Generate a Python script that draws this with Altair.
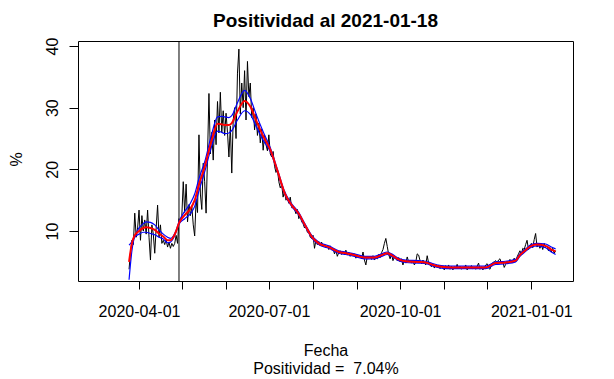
import altair as alt
import pandas as pd

# Daily positivity (%) from 2020-03-25 to 2021-01-18
inicio = "2020-03-25"
positividad = [
    3.8, 6.5, 8.5, 7.8, 12.9, 9.0, 10.5,
    13.4, 8.5, 12.5, 10.0, 11.8, 9.5, 13.4, 9.0, 5.3, 11.0,
    9.5, 6.4, 10.5, 14.2, 9.0, 11.0, 8.0, 8.5, 7.8, 8.6,
    7.4, 8.2, 7.2, 8.0, 7.5, 8.0, 9.3, 8.0, 12.0, 11.5,
    12.5, 18.0, 13.0, 17.6, 11.5, 14.3, 12.5, 14.0, 11.0, 9.2,
    15.0, 13.0, 25.6, 16.0, 13.5, 21.0, 18.0, 12.9, 22.0, 32.3,
    22.5, 26.0, 21.5, 28.0, 24.0, 31.0, 25.9, 32.5, 26.0, 29.5,
    25.5, 29.1, 26.0, 22.0, 27.0, 19.4, 28.0, 30.0, 25.0, 35.6,
    39.5, 29.0, 34.0, 30.0, 36.0, 28.0, 37.5, 31.8, 34.0, 28.4,
    30.0, 26.4, 29.0, 25.5, 27.5, 24.3, 26.5, 23.1, 25.5, 24.0,
    23.0, 25.6, 22.5, 22.0, 22.9, 20.5, 19.5, 20.0, 18.0, 17.0,
    17.5, 15.5, 16.5, 15.0, 15.5, 14.5, 15.5, 13.8, 14.0, 13.5,
    12.8, 13.5, 12.0, 12.5, 11.5, 11.2, 10.5, 10.8, 9.8, 10.0,
    9.0, 8.8, 9.3, 7.2, 8.5, 7.8, 8.3, 7.6, 8.2, 7.5,
    7.9, 7.3, 7.7, 7.0, 7.6, 7.0, 7.2, 6.3, 6.9, 5.9,
    6.5, 6.8, 6.2, 6.6, 6.3, 6.9, 6.1, 6.5, 5.9, 6.4,
    6.0, 6.3, 5.6, 6.1, 5.8, 6.0, 5.5, 6.6, 5.3, 4.5,
    5.9, 5.6, 5.8, 5.4, 6.0, 5.3, 5.7, 5.5, 6.2, 5.7,
    6.5, 7.0, 8.0, 8.8, 7.5, 6.2, 5.5, 6.3, 5.2, 5.8,
    5.6, 5.2, 5.7, 5.0, 5.5, 4.5, 5.3, 4.8, 5.8, 5.0,
    5.3, 4.8, 5.2, 4.5, 5.0, 6.3, 6.1, 5.2, 4.7, 5.3,
    4.9, 4.5, 6.0, 4.8, 4.5, 4.2, 4.6, 4.0, 4.4, 4.1,
    4.5, 3.9, 4.3, 4.0, 3.7, 4.4, 4.0, 4.5, 3.8, 4.3,
    3.7, 4.2, 4.0, 4.6, 3.9, 4.3, 3.8, 4.2, 4.0, 4.5,
    3.7, 4.2, 4.0, 4.4, 3.9, 4.1, 3.8, 4.3, 4.8, 3.8,
    4.2, 3.7, 4.0, 4.5, 4.7, 4.0, 3.8, 4.5, 4.9, 5.0,
    5.2, 4.8, 5.3, 5.5, 4.8, 5.0, 4.1, 4.6, 5.1, 4.8,
    5.4, 4.9, 5.2, 5.6, 5.0, 5.8, 6.3, 6.8, 6.2, 7.2,
    7.0, 7.8, 8.5, 7.0, 7.4, 8.0, 7.3, 8.6, 9.6, 7.4,
    8.0, 7.2, 7.8, 7.0, 8.0, 7.3, 7.6, 6.8, 7.3, 6.6,
    7.2, 6.4, 6.8,
]

# Smoothed curve and band, days counted from 2020-04-01
suav_dias = [-7, -5, -3, 0, 3, 5, 8, 11, 14, 17, 20, 22, 24, 26, 28, 32, 36, 39, 42, 46,
             51, 55, 58, 60, 63, 65, 69, 74, 78, 82, 87, 92, 97, 102, 107, 112, 116, 121,
             126, 133, 140, 145, 151, 158, 165, 170, 174, 177, 182, 187, 196, 201, 205,
             212, 219, 229, 238, 243, 250, 257, 264, 267, 271, 275, 279, 285, 289, 292]
suav = [5.0, 8.0, 9.3, 10.0, 10.5, 10.6, 10.5, 10.2, 9.6, 9.1, 8.5, 8.5, 9.0, 10.0, 11.3,
        12.6, 13.6, 15.0, 17.5, 20.4, 24.8, 27.4, 27.3, 27.2, 27.2, 27.5, 29.4, 31.1, 30.2,
        28.0, 25.4, 23.2, 19.8, 16.2, 14.2, 12.8, 11.1, 9.1, 8.0, 7.4, 6.6, 6.4, 6.1, 5.7,
        5.7, 6.1, 6.4, 6.1, 5.4, 5.1, 5.0, 4.9, 4.6, 4.2, 4.1, 4.1, 4.1, 4.1, 4.8, 4.9,
        5.2, 6.1, 6.9, 7.6, 7.8, 7.6, 7.0, 6.7]
superior = [7.7, 8.3, 9.2, 10.5, 11.2, 11.5, 11.4, 11.0, 10.2, 9.5, 9.0, 8.8, 9.2, 10.1, 11.5,
            13.2, 14.5, 16.0, 18.5, 21.2, 25.8, 28.5, 28.6, 28.5, 28.4, 28.7, 30.8, 32.8, 31.5,
            29.0, 26.1, 23.5, 20.0, 16.4, 14.4, 13.0, 11.3, 9.3, 8.2, 7.6, 6.8, 6.6, 6.3, 5.9,
            5.9, 6.3, 6.6, 6.3, 5.6, 5.3, 5.2, 5.1, 4.8, 4.4, 4.3, 4.3, 4.3, 4.3, 5.0, 5.1,
            5.4, 6.3, 7.1, 7.8, 8.0, 7.9, 7.4, 7.1]
inferior = [2.1, 6.8, 9.0, 9.5, 9.8, 9.8, 9.6, 9.4, 9.0, 8.7, 8.1, 8.2, 8.8, 9.9, 11.1,
            12.0, 12.8, 14.0, 16.5, 19.6, 23.8, 26.2, 26.0, 25.8, 25.9, 26.3, 28.0, 29.5, 28.9,
            27.0, 24.7, 22.9, 19.6, 16.0, 14.0, 12.6, 10.9, 8.9, 7.8, 7.2, 6.4, 6.2, 5.9, 5.5,
            5.5, 5.9, 6.2, 5.9, 5.2, 4.9, 4.8, 4.7, 4.4, 4.0, 3.9, 3.9, 3.9, 3.9, 4.6, 4.7,
            5.0, 5.9, 6.7, 7.4, 7.6, 7.3, 6.6, 6.2]

fecha_corte = "2020-04-29"
marcas_x = ["2020-04-01", "2020-05-01", "2020-06-01", "2020-07-01", "2020-08-01",
            "2020-09-01", "2020-10-01", "2020-11-01", "2020-12-01", "2021-01-01"]
marcas_y = [10, 20, 30, 40]

fechas = pd.date_range(inicio, periods=len(positividad), freq="D")
df_obs = pd.DataFrame({"fecha": fechas.strftime("%Y-%m-%d"), "valor": positividad})
base = pd.Timestamp("2020-04-01")
fs = [(base + pd.Timedelta(days=d)).strftime("%Y-%m-%d") for d in suav_dias]
df_s = pd.DataFrame({"fecha": fs, "centro": suav})
df_band = pd.concat([
    pd.DataFrame({"fecha": fs, "valor": superior, "serie": "sup"}),
    pd.DataFrame({"fecha": fs, "valor": inferior, "serie": "inf"}),
])


def dt(s, h=0):
    y, m, d = [int(v) for v in s.split("-")]
    return alt.DateTime(year=y, month=m, date=d, hours=h, utc=True)


xscale = alt.Scale(type="utc", domain=[dt("2020-02-18", 5), dt("2021-01-30", 5)])
yscale = alt.Scale(domain=[1.90, 40.81], nice=False, zero=False)

xaxis = alt.Axis(
    values=[dt(s) for s in marcas_x],
    labelExpr="utcmonth(datum.value) % 3 == 0 ? utcFormat(datum.value, '%Y-%m-%d') : ''",
    title=["Fecha", "Positividad =\u00a0 7.04%"],
    titleFontSize=16, titleFontWeight="normal", titleLineHeight=18.5,
    titleBaseline="alphabetic", titleY=74, titleAnchor="middle",
    tickSize=8, labelPadding=14, labelOverlap=False, labelFlush=False,
)
yaxis = alt.Axis(
    values=marcas_y, labelAngle=-90, labelAlign="center", labelBaseline="alphabetic",
    tickSize=9, labelPadding=12, labelOverlap=False,
    title="%", titleFontSize=16, titleFontWeight="normal", titleAngle=-90,
    titleX=-57, titleY=118, titleAlign="center", titleBaseline="alphabetic",
)

x = alt.X("fecha:T", scale=xscale, axis=xaxis)
y = alt.Y("valor:Q", scale=yscale, axis=yaxis)

obs = alt.Chart(df_obs).mark_line(color="black", strokeWidth=1, clip=True).encode(x=x, y=y)
band = alt.Chart(df_band).mark_line(color="blue", strokeWidth=1.2, interpolate="monotone", clip=True).encode(
    x=alt.X("fecha:T"), y=alt.Y("valor:Q"), detail="serie:N")
centro = alt.Chart(df_s).mark_line(color="red", strokeWidth=2, interpolate="monotone", clip=True).encode(
    x=alt.X("fecha:T"), y=alt.Y("centro:Q"))
regla = alt.Chart(pd.DataFrame({"fecha": [fecha_corte]})).mark_rule(color="black", strokeWidth=1).encode(
    x=alt.X("fecha:T"))

chart = alt.layer(obs, regla, band, centro).properties(
    width=495, height=240,
    title=alt.TitleParams("Positividad al 2021-01-18", font="Liberation Sans", fontSize=19,
                          fontWeight="bold", anchor="middle", offset=6, color="black"),
    autosize=alt.AutoSizeParams(type="none"),
    padding={"left": 70, "top": 33, "right": 33, "bottom": 98},
    background="white",
).configure_view(stroke="black", strokeWidth=1).configure_axis(
    domain=False, grid=False, tickColor="black", labelColor="black", titleColor="black",
    labelFont="Liberation Sans", titleFont="Liberation Sans", labelFontSize=16,
)

chart.save("out.html", embed_options={"renderer": "svg", "actions": False})
